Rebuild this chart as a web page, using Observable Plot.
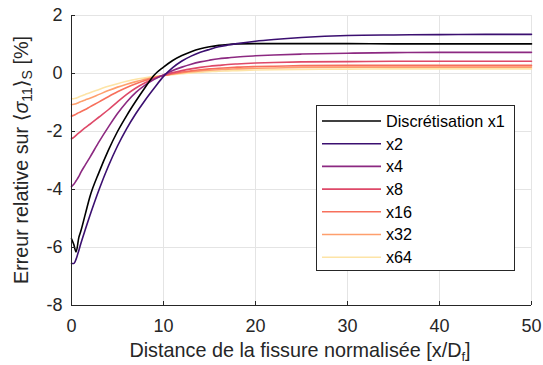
<!DOCTYPE html>
<html>
<head>
<meta charset="utf-8">
<script src="https://cdn.jsdelivr.net/npm/d3@7"></script>
<script src="https://cdn.jsdelivr.net/npm/@observablehq/plot@0.6"></script>
<style>
  body { margin: 0; background: #fff; font-family: "Liberation Sans", Arial, sans-serif; }
  #wrap { position: relative; width: 543px; height: 365px; }
  #legend { position: absolute; left: 316px; top: 105px; width: 199px; height: 166px;
            border: 1px solid #262626; background: #fff; box-sizing: border-box; }
</style>
</head>
<body>
<div id="wrap"></div>
<script>
const xs = [0,0.25,0.5,0.8,1,1.5,2,3,4,5,6,7,8,9,10,11,12,13,14,15,16,17,18,20,22,25,30,35,40,45,50];

const seriesNames = ["Discrétisation x1","x2","x4","x8","x16","x32","x64"];
const seriesColors = ["#000000","#3b0f70","#8c2981","#de4968","#f7705c","#fe9f6d","#fde4a6"];

const yX1  = [-5.7,-5.9,-6.15,-5.65,-5.45,-4.85,-4.25,-3.4,-2.65,-2.0,-1.45,-0.95,-0.48,-0.05,0.22,0.45,0.62,0.75,0.85,0.92,0.97,1.0,1.02,1.03,1.03,1.03,1.03,1.02,1.02,1.02,1.02];
const yX2  = [-6.55,-6.55,-6.4,-6.1,-5.88,-5.38,-4.9,-4.0,-3.2,-2.5,-1.9,-1.38,-0.92,-0.5,-0.1,0.2,0.43,0.6,0.73,0.83,0.92,0.98,1.03,1.11,1.17,1.24,1.31,1.33,1.34,1.35,1.35];
const yX4  = [-3.9,-3.82,-3.7,-3.55,-3.42,-3.15,-2.89,-2.35,-1.85,-1.38,-0.98,-0.65,-0.4,-0.2,-0.05,0.1,0.22,0.32,0.4,0.46,0.51,0.54,0.57,0.61,0.64,0.67,0.7,0.72,0.73,0.73,0.73];
const yX8  = [-2.25,-2.2,-2.13,-2.05,-2.0,-1.87,-1.75,-1.5,-1.25,-0.98,-0.72,-0.5,-0.32,-0.17,-0.06,0.03,0.1,0.16,0.21,0.25,0.28,0.31,0.33,0.36,0.38,0.4,0.41,0.42,0.42,0.42,0.42];
const yX16 = [-1.47,-1.44,-1.4,-1.35,-1.32,-1.24,-1.15,-0.98,-0.8,-0.63,-0.48,-0.35,-0.24,-0.15,-0.07,-0.01,0.05,0.09,0.13,0.16,0.18,0.2,0.22,0.24,0.25,0.27,0.28,0.28,0.28,0.28,0.28];
const yX32 = [-1.07,-1.06,-1.04,-1.0,-0.97,-0.91,-0.85,-0.72,-0.59,-0.47,-0.37,-0.28,-0.2,-0.13,-0.07,-0.02,0.02,0.06,0.09,0.11,0.13,0.15,0.16,0.18,0.19,0.21,0.22,0.22,0.22,0.22,0.22];
const yX64 = [-0.87,-0.87,-0.85,-0.81,-0.78,-0.72,-0.66,-0.55,-0.44,-0.35,-0.27,-0.2,-0.15,-0.1,-0.07,-0.04,-0.01,0.02,0.04,0.06,0.08,0.09,0.1,0.12,0.13,0.14,0.15,0.16,0.16,0.16,0.16];

const xTicks = [0,10,20,30,40,50];
const yTicks = [-8,-6,-4,-2,0,2];

const allY = [yX1,yX2,yX4,yX8,yX16,yX32,yX64];
const rows = [];
allY.forEach((arr, si) => arr.forEach((v, i) => rows.push({x: xs[i], y: v, s: seriesNames[si]})));

const drawOrder = [6,5,4,3,2,0,1];

const axisColor = "#262626";
const gridColor = "#e4e4e4";
const fmt = d => String(d);

const chart = Plot.plot({
  width: 543,
  height: 365,
  marginLeft: 71,
  marginRight: 12,
  marginTop: 15,
  marginBottom: 60,
  style: {fontFamily: "'Liberation Sans', Arial, sans-serif", fontSize: "18px", color: axisColor, background: "#fff"},
  x: {domain: [0, 50], ticks: xTicks, label: null},
  y: {domain: [-8, 2], ticks: yTicks, label: null},
  marks: [
    Plot.gridX(xTicks, {stroke: gridColor, strokeOpacity: 1}),
    Plot.gridY(yTicks, {stroke: gridColor, strokeOpacity: 1}),
    ...drawOrder.map(si => Plot.line(rows.filter(r => r.s === seriesNames[si]), {
      x: "x", y: "y", stroke: seriesColors[si], strokeWidth: 1.6, curve: "monotone-x"
    })),
    Plot.ruleX([0], {stroke: axisColor, strokeWidth: 1}),
    Plot.ruleY([-8], {stroke: axisColor, strokeWidth: 1}),
    Plot.axisX(xTicks, {tickSize: -4, tickPadding: 18, stroke: axisColor, fill: axisColor, fontSize: 18, tickFormat: fmt}),
    Plot.axisY(yTicks, {tickSize: -4, tickPadding: 13, stroke: axisColor, fill: axisColor, fontSize: 18, tickFormat: fmt})
  ]
});

const wrap = document.getElementById("wrap");
wrap.appendChild(chart);

const svg = d3.select(chart);
const yl = svg.append("text")
  .attr("transform", "translate(28,160) rotate(-90)")
  .attr("text-anchor", "middle")
  .attr("fill", axisColor)
  .style("font-size", "19.8px")
  .style("font-family", "'Liberation Sans', Arial, sans-serif");
yl.append("tspan").text("Erreur relative sur ");
yl.append("tspan").text("\u27E8").style("font-family", "'DejaVu Sans'");
yl.append("tspan").text("σ").style("font-style", "italic");
yl.append("tspan").text("11").attr("baseline-shift", "-30%").style("font-size", "14px");
yl.append("tspan").text("\u27E9").style("font-family", "'DejaVu Sans'");
yl.append("tspan").text("S").attr("baseline-shift", "-30%").style("font-size", "14px");
yl.append("tspan").text(" [%]");

const xl = svg.append("text")
  .attr("x", 300).attr("y", 357)
  .attr("text-anchor", "middle")
  .attr("fill", axisColor)
  .style("font-size", "19.8px")
  .style("font-family", "'Liberation Sans', Arial, sans-serif");
xl.append("tspan").text("Distance de la fissure normalisée [x/D");
xl.append("tspan").text("f").attr("baseline-shift", "-30%").style("font-size", "13px");
xl.append("tspan").text("]");

const leg = document.createElement("div");
leg.id = "legend";
wrap.appendChild(leg);
const lsvg = d3.select(leg).append("svg").attr("width", 197).attr("height", 164);
seriesNames.forEach((name, i) => {
  const cy = 15 + i * 22.7;
  lsvg.append("line").attr("x1", 5).attr("x2", 64).attr("y1", cy).attr("y2", cy)
    .attr("stroke", seriesColors[i]).attr("stroke-width", 1.6);
  lsvg.append("text").attr("x", 69).attr("y", cy).attr("dy", "0.36em")
    .attr("fill", "#000").style("font-size", "16.2px")
    .style("font-family", "'Liberation Sans', Arial, sans-serif").text(name);
});
</script>
</body>
</html>
